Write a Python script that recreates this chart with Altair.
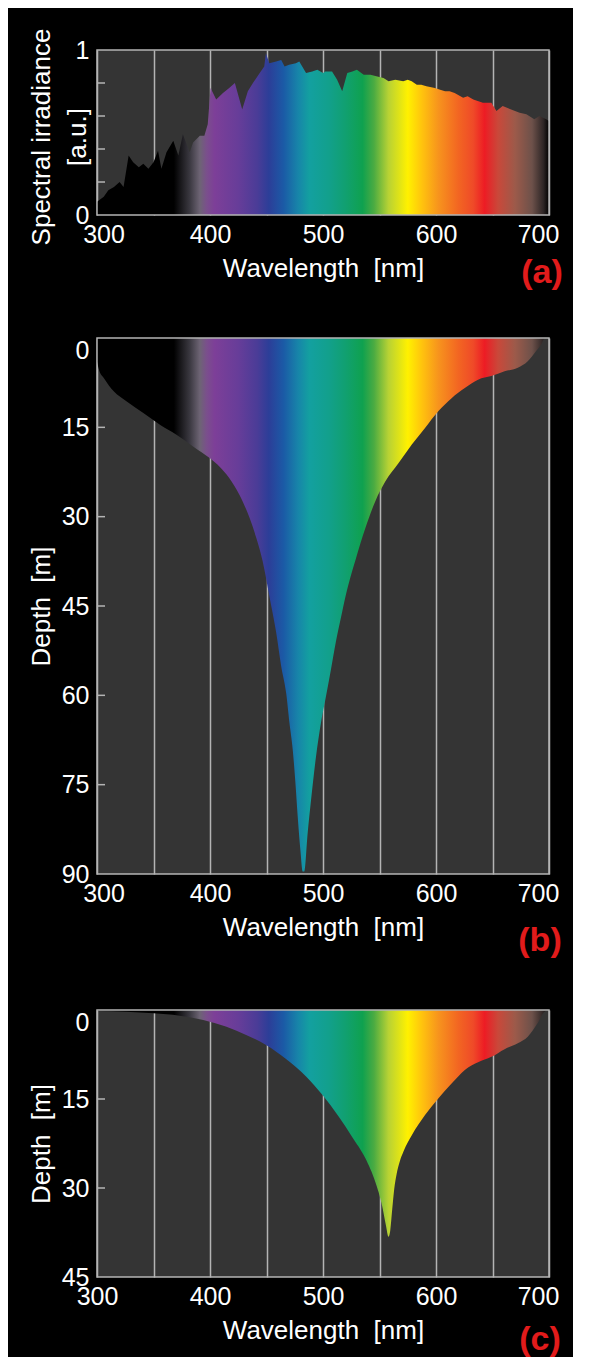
import altair as alt
import pandas as pd

# ---------------- data ----------------
# (a) surface solar spectrum
wl_a = [300, 306, 310, 315, 320, 323.5, 328, 332, 337, 341, 345.5, 350, 354, 357,
        361.5, 367.5, 372, 376, 382, 385, 391, 395, 398, 400.5, 405.5, 411.5, 417,
        422, 428.5, 433.5, 438, 444, 448, 449.5, 452.5, 458.5, 463, 466, 470, 476,
        479, 485, 490.5, 495, 500, 502, 508, 512.5, 517, 521.5, 526, 530, 536, 542,
        548, 553.5, 558, 564, 571, 575, 578.5, 583, 587, 591.5, 599, 603, 608, 612,
        616.5, 624, 628, 633, 641.5, 649, 653.5, 659, 666.5, 674, 680, 687, 691.5,
        697.5, 700]
irr_a = [0.08, 0.11, 0.15, 0.17, 0.20, 0.17, 0.36, 0.32, 0.29, 0.31, 0.28, 0.32, 0.39,
         0.28, 0.38, 0.45, 0.36, 0.49, 0.38, 0.44, 0.48, 0.48, 0.55, 0.77, 0.70, 0.74,
         0.77, 0.80, 0.64, 0.75, 0.80, 0.86, 0.90, 0.98, 0.92, 0.93, 0.94, 0.90, 0.91,
         0.92, 0.93, 0.86, 0.87, 0.88, 0.86, 0.87, 0.87, 0.82, 0.75, 0.86, 0.87, 0.88,
         0.85, 0.85, 0.84, 0.83, 0.81, 0.82, 0.81, 0.82, 0.81, 0.79, 0.79, 0.78, 0.77,
         0.76, 0.75, 0.75, 0.74, 0.71, 0.72, 0.70, 0.68, 0.68, 0.63, 0.66, 0.64, 0.62,
         0.61, 0.58, 0.60, 0.58, 0.57]

# (b) depth reached by each wavelength, clear ocean water
wl_b = [300, 302, 306, 315, 326, 341, 356, 370, 385, 400, 408.5, 417, 426, 435, 441,
        446.6, 452.5, 458.6, 463, 467.4, 470.3, 473.2, 475.6, 477.6, 480, 482, 483.5,
        486.4, 489.4, 493.8, 498.2, 502.6, 507, 511.4, 515.8, 520, 524.5, 528.7, 537.5,
        546.3, 555.1, 566.9, 578.6, 590.3, 602, 613.8, 625.5, 637.2, 648.9, 660.7,
        672.4, 681.2, 688.6, 693, 696.5, 700]
depth_b = [4.0, 5.5, 6.7, 9.0, 10.6, 12.6, 14.6, 16.2, 18.2, 20.2, 21.6, 23.5, 26.3,
           30.2, 33.6, 37.5, 43.3, 49.5, 55.1, 59.6, 64.6, 69.1, 74.7, 80.3, 86.0, 89.6,
           89.6, 83.2, 77.6, 70.3, 64.6, 60.2, 55.7, 51.0, 47.0, 43.3, 40.0, 37.3, 31.9,
           27.4, 24.1, 21.0, 17.9, 15.1, 12.3, 10.1, 8.4, 7.0, 6.4, 5.6, 5.0, 3.9, 2.2,
           1.1, 0.0, 0.0]

# (c) depth reached by each wavelength, coastal water
wl_c = [300, 326, 350, 373, 394, 414, 432, 449.6, 467, 485, 499.4, 514, 525.8, 537.5,
        546.3, 552.2, 555.7, 558, 559.5, 561.3, 563, 565.2, 567.8, 571.3, 578.6, 590.3,
        602, 613.8, 625.5, 637.2, 649, 660.7, 672.4, 681.2, 690, 696, 700]
depth_c = [0.17, 0.3, 0.56, 0.96, 1.7, 2.8, 4.2, 5.9, 8.2, 11.2, 14.3, 18.0, 21.4, 25.0,
           29.0, 32.9, 36.3, 38.2, 37.2, 33.5, 30.2, 27.6, 25.6, 23.8, 21.1, 17.7, 14.9,
           12.4, 10.1, 8.8, 7.9, 6.6, 5.6, 4.5, 2.2, 0.3, 0.0]

x_ticks = [300, 350, 400, 450, 500, 550, 600, 650, 700]
irr_labels = [0, 1]
irr_minor = [0.2, 0.4, 0.6, 0.8]
depth_labels_b = [0, 15, 30, 45, 60, 75, 90]
depth_minor_b = [15, 30, 45, 60, 75]
depth_labels_c = [0, 15, 30, 45]
depth_minor_c = [15, 30]
panel_tags = ["(a)", "(b)", "(c)"]
NB = "\u00a0"
x_title = "Wavelength" + NB + NB + "[nm]"
depth_title = "Depth" + NB + NB + "[m]"
irr_title = ["Spectral irradiance", "[a.u.]"]

# visible spectrum colours (wavelength -> colour)
spec_wl = [300, 368, 382, 391, 397, 404, 425, 442, 452, 465, 478, 488, 505, 520, 535,
           545, 558, 575, 588, 602, 620, 633, 643, 655, 670, 685, 695, 700]
spec_col = ["#000000", "#000000", "#3a3840", "#6d6474", "#7a4f8c", "#7d3f98", "#673d99",
            "#4a3c97", "#2c3e98", "#1b5aa6", "#1785a9", "#13a0a0", "#12a08c", "#11a070",
            "#0fa14f", "#4aab42", "#b8d234", "#fff100", "#ffc20e", "#f7941d", "#f26522",
            "#ef4a28", "#ed1c24", "#c9483a", "#9c5a4a", "#6d514a", "#2e2626", "#000000"]

# ---------------- styling ----------------
W = 452
H_A, H_B, H_C = 165, 536, 267
GRID = "#b4b4b4"
PLOT_BG = "#343434"
FONT = "Liberation Sans"
TAG_RED = "#e21b1b"

grad = alt.Gradient(
    gradient="linear",
    stops=[alt.GradientStop(offset=(w - 300) / 400, color=c) for w, c in zip(spec_wl, spec_col)],
    x1=0, x2=1, y1=0, y2=0,
)

xscale = alt.Scale(domain=[300, 700], nice=False, zero=False)


def x_axis(off300):
    return alt.Axis(
        values=x_ticks,
        labelExpr="datum.value % 100 == 0 ? datum.label : ''",
        labelOverlap=False, labelFlush=False,
        grid=True, gridColor=GRID, gridWidth=1.5,
        ticks=False, tickSize=0, domain=False,
        labelFont=FONT, labelFontSize=25, labelColor="white", labelPadding=7,
        labelOffset={"condition": [{"test": "datum.value == 300", "value": off300},
                                   {"test": "datum.value == 700", "value": -11}],
                     "value": 0},
        title=x_title, titleFont=FONT, titleFontSize=26,
        titleFontWeight="normal", titleColor="white", titlePadding=8,
    )


def y_axis(values, title, h, dy=0, top_flush=False):
    kw = {}
    if top_flush:
        kw["labelBaseline"] = {"condition": {"test": "datum.value == 0", "value": "top"},
                               "value": "middle"}
    return alt.Axis(
        values=values, format="d", grid=False, ticks=False, tickSize=0, domain=False,
        labelFont=FONT, labelFontSize=25, labelColor="white", labelPadding=8,
        labelOverlap=False, labelFlush=False,
        title=title, titleFont=FONT, titleFontSize=26, titleFontWeight="normal",
        titleColor="white", titleX=-48, titleY=h / 2 + dy, titleAngle=270,
        titleAlign="center", titleBaseline="alphabetic", titleLineHeight=36,
        **kw,
    )


def frame(h):
    return alt.Chart(pd.DataFrame({"k": [0]})).mark_rect(
        filled=False, stroke=GRID, strokeWidth=1.5
    ).encode(x=alt.value(0), x2=alt.value(W), y=alt.value(0), y2=alt.value(h))


def tag(text, x, y):
    return alt.Chart(pd.DataFrame({"t": [text]})).mark_text(
        font=FONT, fontSize=34, fontWeight="bold", color=TAG_RED,
        align="center", baseline="alphabetic"
    ).encode(text="t:N", x=alt.value(x), y=alt.value(y))


# ---------------- panel (a) ----------------
df_a = pd.DataFrame({"wl": wl_a, "val": irr_a})
yscale_a = alt.Scale(domain=[0, 1], nice=False)
area_a = alt.Chart(df_a).mark_area(color=grad, interpolate="linear").encode(
    x=alt.X("wl:Q", scale=xscale, axis=x_axis(6.5)),
    y=alt.Y("val:Q", scale=yscale_a, axis=y_axis(irr_labels, irr_title, H_A, dy=4)),
)
ticks_a = alt.Chart(pd.DataFrame({"val": irr_minor})).mark_rule(
    color=GRID, strokeWidth=1.5
).encode(y=alt.Y("val:Q", scale=yscale_a), x=alt.value(0), x2=alt.value(8))
panel_a = alt.layer(area_a, ticks_a, frame(H_A), tag(panel_tags[0], 445, H_A + 68)
                    ).properties(width=W, height=H_A)

# ---------------- panel (b) ----------------
df_b = pd.DataFrame({"wl": wl_b, "depth": depth_b})
yscale_b = alt.Scale(domain=[0, 90], reverse=True, nice=False)
area_b = alt.Chart(df_b).mark_area(color=grad, interpolate="monotone").encode(
    x=alt.X("wl:Q", scale=xscale, axis=x_axis(6.5)),
    y=alt.Y("depth:Q", scale=yscale_b,
            axis=y_axis(depth_labels_b, depth_title, H_B, top_flush=True)),
)
ticks_b = alt.Chart(pd.DataFrame({"depth": depth_minor_b})).mark_rule(
    color=GRID, strokeWidth=1.5
).encode(y=alt.Y("depth:Q", scale=yscale_b), x=alt.value(0), x2=alt.value(8))
panel_b = alt.layer(area_b, ticks_b, frame(H_B), tag(panel_tags[1], 443, H_B + 77)
                    ).properties(width=W, height=H_B)

# ---------------- panel (c) ----------------
df_c = pd.DataFrame({"wl": wl_c, "depth": depth_c})
yscale_c = alt.Scale(domain=[0, 45], reverse=True, nice=False)
area_c = alt.Chart(df_c).mark_area(color=grad, interpolate="monotone").encode(
    x=alt.X("wl:Q", scale=xscale, axis=x_axis(0)),
    y=alt.Y("depth:Q", scale=yscale_c,
            axis=y_axis(depth_labels_c, depth_title, H_C, top_flush=True)),
)
ticks_c = alt.Chart(pd.DataFrame({"depth": depth_minor_c})).mark_rule(
    color=GRID, strokeWidth=1.5
).encode(y=alt.Y("depth:Q", scale=yscale_c), x=alt.value(0), x2=alt.value(8))
panel_c = alt.layer(area_c, ticks_c, frame(H_C), tag(panel_tags[2], 443, H_C + 73)
                    ).properties(width=W, height=H_C)

upper = alt.vconcat(panel_a, panel_b, spacing=47)
chart = alt.vconcat(upper, panel_c, spacing=51).properties(
    background="#000000",
    padding={"left": 19, "top": 20, "right": 10, "bottom": 0},
).configure_view(fill=PLOT_BG, stroke=None)

chart.save("out.html", embed_options={"renderer": "svg", "actions": False})
